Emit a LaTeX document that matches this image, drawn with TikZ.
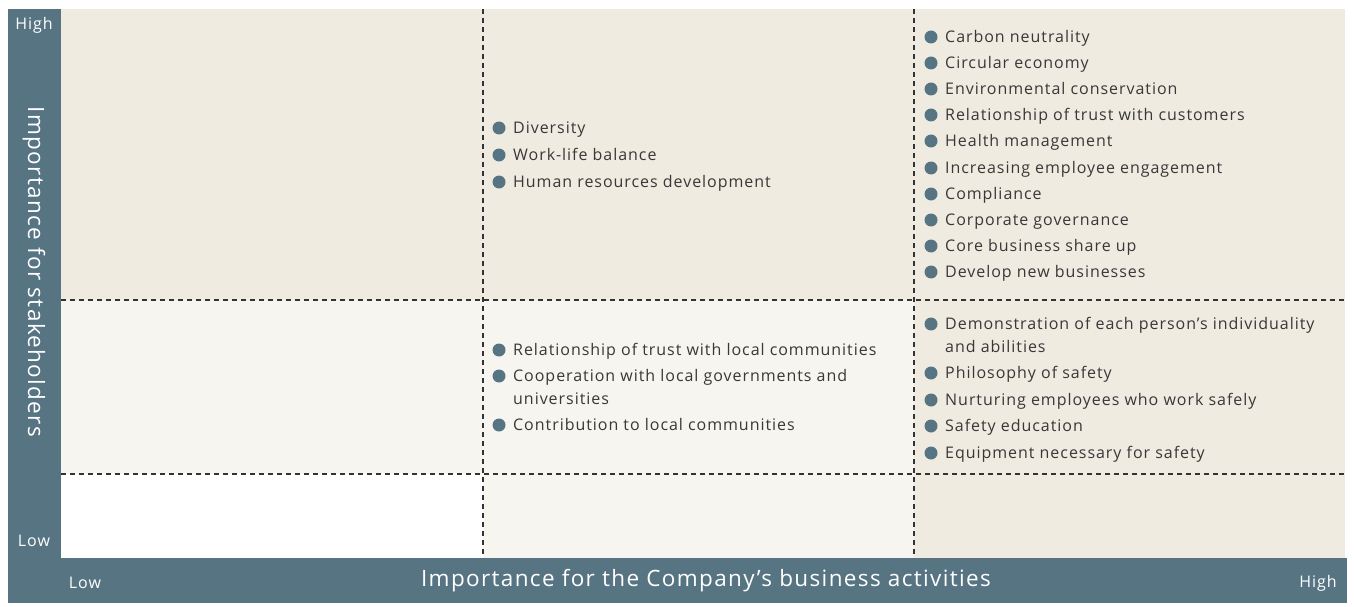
\documentclass[tikz,border=0pt]{standalone}
\usepackage{fontspec}
\setmainfont{Open Sans}[LetterSpace=6]
\usetikzlibrary{positioning}
\definecolor{barteal}{HTML}{577483}
\definecolor{cellbeige}{HTML}{EFEBE1}
\definecolor{celllight}{HTML}{F7F5F0}
\definecolor{inktext}{HTML}{383838}

\begin{document}
\begin{tikzpicture}[x=1pt, y=-1pt,
                    font=\fontsize{16}{23}\selectfont,
                    text=inktext]
    \tikzstyle{grid}=[draw=black!80, line width=1.2pt, dash pattern=on 5pt off 4pt]
    \tikzstyle{item}=[anchor=north west, inner sep=0pt, align=left]
    \tikzstyle{bulletdot}=[fill=barteal]
    \tikzstyle{axis}=[text=white, font=\fontsize{22.5}{26}\selectfont]
    \tikzstyle{tick}=[text=white, font=\fontsize{16}{18}\selectfont]

    \useasboundingbox (0,0) rectangle (1354,607);

    % cells
    \fill[cellbeige] (61,9) rectangle (1345,300);
    \fill[celllight] (61,300) rectangle (914,474);
    \fill[celllight] (483,474) rectangle (914,558);
    \fill[cellbeige] (914,300) rectangle (1345,558);

    % axis bars
    \fill[barteal] (8,9) rectangle (61,603);
    \fill[barteal] (8,558) rectangle (1347,603);

    \draw[grid] (483,9) -- (483,558);
    \draw[grid] (914,9) -- (914,558);
    \draw[grid] (61,300) -- (1345,300);
    \draw[grid] (61,474) -- (1345,474);

    \node[axis, rotate=-90] (yaxis) at (34,272) {Importance for stakeholders};
    \node[axis] (xaxis) at (706,581) {Importance for the Company’s business activities};
    \node[tick] (yhigh) at (34,25) {High};
    \node[tick] (ylow) at (34,541) {Low};
    \node[tick] (xlow) at (85,583) {Low};
    \node[tick] (xhigh) at (1318,583) {High};

    % high / high
    \foreach \y/\txt [count=\i] in {37/Carbon neutrality, 63/Circular economy,
        89/Environmental conservation, 115/Relationship of trust with customers,
        141/Health management, 168/Increasing employee engagement,
        194/Compliance, 220/Corporate governance, 246/Core business share up,
        272/Develop new businesses} {
        \node[item] (hh\i) at (945,\y-10.4) {\strut\txt};
        \fill[bulletdot] ([xshift=-14pt,yshift=-10.4pt]hh\i.north west) circle (6.5pt);
    }

    % high / medium
    \foreach \y/\txt [count=\i] in {128/Diversity, 155/Work-life balance,
        182/Human resources development} {
        \node[item] (hm\i) at (513,\y-10.4) {\strut\txt};
        \fill[bulletdot] ([xshift=-14pt,yshift=-10.4pt]hm\i.north west) circle (6.5pt);
    }

    % medium / high
    \foreach \y/\txt [count=\i] in {324/Demonstration of each person’s individuality\\and abilities,
        373/Philosophy of safety, 400/Nurturing employees who work safely,
        426/Safety education, 453/Equipment necessary for safety} {
        \node[item] (mh\i) at (945,\y-10.4) {\strut\txt};
        \fill[bulletdot] ([xshift=-14pt,yshift=-10.4pt]mh\i.north west) circle (6.5pt);
    }

    % medium / medium
    \foreach \y/\txt [count=\i] in {350/Relationship of trust with local communities,
        376/Cooperation with local governments and\\universities,
        425/Contribution to local communities} {
        \node[item] (mm\i) at (513,\y-10.4) {\strut\txt};
        \fill[bulletdot] ([xshift=-14pt,yshift=-10.4pt]mm\i.north west) circle (6.5pt);
    }
\end{tikzpicture}
\end{document}
